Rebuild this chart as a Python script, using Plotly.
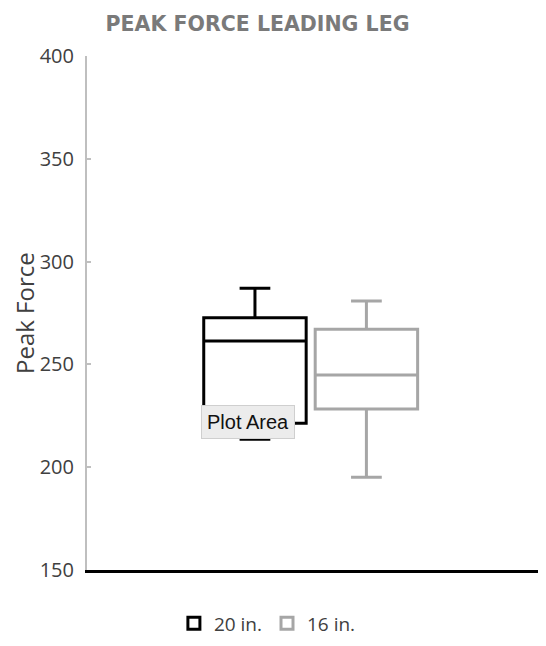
import plotly.graph_objects as go

# series names and five-number summaries
series = ["20 in.", "16 in."]
lower_whisker = [213.6, 195.1]
q1 = [221.4, 228.3]
median = [261.4, 244.8]
q3 = [272.7, 267.1]
upper_whisker = [287.0, 280.8]
colors = ["#000000", "#a6a6a6"]

y_ticks = [150, 200, 250, 300, 350, 400]

fig = go.Figure()
for i, name in enumerate(series):
    fig.add_trace(go.Box(
        name=name,
        x=["Leading"],
        q1=[q1[i]], median=[median[i]], q3=[q3[i]],
        lowerfence=[lower_whisker[i]], upperfence=[upper_whisker[i]],
        line=dict(color=colors[i], width=3),
        fillcolor="white",
        whiskerwidth=0.3,
        boxpoints=False,
        hoverinfo="skip",
    ))

# page body adds 8px around the figure, so the figure is 16px smaller than the window
fig.update_layout(
    width=530, height=630,
    margin=dict(l=79, r=0, t=48, b=68, autoexpand=False),
    paper_bgcolor="white", plot_bgcolor="white",
    font=dict(family="Open Sans", color="#595959"),
    boxmode="group", boxgap=0.509, boxgroupgap=0.081,
    title=dict(text="<b>PEAK FORCE LEADING LEG</b>", x=0.4708, xanchor="center",
               y=0.975, yanchor="middle",
               font=dict(size=20.5, color="#7a7a7a", family="DejaVu Sans")),
    showlegend=True,
    legend=dict(orientation="h", x=0.400, xanchor="center", y=-0.104, yanchor="middle",
                font=dict(size=19, color="#404040"), itemwidth=30),
    annotations=[
        # y axis title, placed by hand so it can sit closer to the left edge
        dict(text="Peak Force", xref="paper", yref="paper", x=-0.1397, y=0.5,
             xanchor="center", yanchor="middle", textangle=-90, showarrow=False,
             font=dict(size=24, color="#404040")),
        dict(text="Plot Area", xref="paper", yref="paper", x=0.357, y=0.2889,
             xanchor="center", yanchor="middle",
             showarrow=False, font=dict(size=20, color="#111111", family="Liberation Sans"),
             bgcolor="#ececec", bordercolor="#cfcfcf", borderwidth=1, borderpad=5),
    ],
)

fig.update_xaxes(
    range=[-0.4927, 0.5007], showticklabels=False, ticks="",
    showline=True, linecolor="#000000", linewidth=3, showgrid=False, zeroline=False,
)
fig.update_yaxes(
    range=[150, 400], tickvals=y_ticks, showgrid=False, zeroline=False,
    showline=True, linecolor="#bfbfbf", linewidth=2, automargin=False,
    ticks="inside", ticklen=4, tickcolor="#bfbfbf", tickwidth=1.5,
    ticklabelstandoff=7,
    tickfont=dict(size=20, color="#404040"),
)

fig.write_html("out.html")
